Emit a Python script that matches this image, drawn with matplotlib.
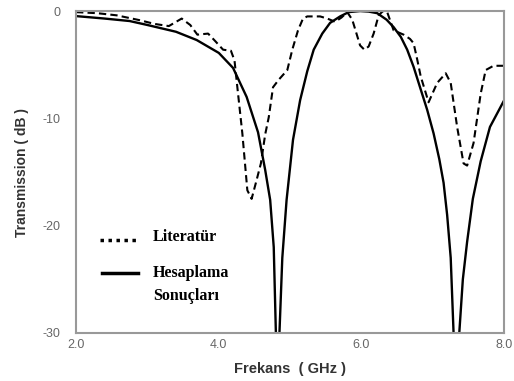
import matplotlib
matplotlib.use("Agg")
import matplotlib.pyplot as plt
from matplotlib.lines import Line2D

# Hesaplama Sonuçları (solid): frequency (GHz), transmission (dB)
calc_f = [2.0, 2.4, 2.75, 3.0, 3.4, 3.69, 4.0, 4.2, 4.39, 4.55, 4.65, 4.72,
          4.77, 4.8, 4.82, 4.85, 4.89, 4.95, 5.04, 5.14, 5.24, 5.33, 5.45,
          5.56, 5.7, 5.82, 5.98, 6.1, 6.22, 6.35, 6.45, 6.55, 6.64, 6.73,
          6.82, 6.92, 7.01, 7.09, 7.15, 7.2, 7.25, 7.29, 7.32, 7.37, 7.42,
          7.48, 7.56, 7.67, 7.8, 8.0]
calc_db = [-0.47, -0.7, -0.93, -1.3, -1.93, -2.7, -3.9, -5.3, -8.0, -11.3,
           -14.8, -17.6, -22.0, -30.0, -40.0, -30.0, -23.0, -17.6, -12.0,
           -8.3, -5.6, -3.6, -2.1, -1.1, -0.5, -0.1, 0.0, -0.05, -0.2, -0.8,
           -1.5, -2.4, -3.6, -5.2, -7.1, -9.2, -11.4, -13.8, -16.0, -19.0,
           -23.0, -30.0, -40.0, -30.0, -25.0, -21.5, -17.5, -14.0, -10.8,
           -8.3]

# Literatür (dashed)
lit_f = [2.0, 2.3, 2.57, 2.89, 3.1, 3.3, 3.48, 3.6, 3.7, 3.85, 3.95, 4.06,
         4.17, 4.22, 4.26, 4.33, 4.4, 4.46, 4.52, 4.59, 4.65, 4.7, 4.76,
         4.84, 4.96, 5.03, 5.11, 5.18, 5.24, 5.42, 5.52, 5.63, 5.72, 5.8,
         5.87, 5.98, 6.04, 6.1, 6.17, 6.24, 6.3, 6.36, 6.45, 6.59, 6.68,
         6.73, 6.78, 6.83, 6.94, 7.06, 7.18, 7.25, 7.34, 7.43, 7.48, 7.57,
         7.67, 7.74, 7.85, 8.0]
lit_db = [-0.1, -0.2, -0.4, -0.85, -1.2, -1.4, -0.7, -1.3, -2.2, -2.1, -2.8,
          -3.6, -3.7, -4.6, -7.1, -11.4, -16.7, -17.5, -16.0, -14.2, -11.5,
          -9.9, -7.1, -6.4, -5.5, -3.6, -1.8, -0.7, -0.5, -0.5, -0.7, -1.0,
          -0.6, -0.1, -0.8, -3.2, -3.6, -3.3, -2.1, -0.4, 0.0, -0.1, -1.8,
          -2.2, -2.6, -3.0, -4.5, -6.1, -8.5, -6.7, -5.8, -6.7, -10.8,
          -14.2, -14.4, -12.3, -7.7, -5.5, -5.1, -5.1]

xticks = [2.0, 4.0, 6.0, 8.0]
yticks = [0, -10, -20, -30]
legend_labels = ["Literatür", "Hesaplama", "Sonuçları"]

fig = plt.figure(figsize=(5.14, 3.81), dpi=100)
ax = fig.add_axes([0.148, 0.126, 0.833, 0.845])

ax.plot(lit_f, lit_db, color="black", lw=1.5, ls=(0, (3.5, 2)))
ax.plot(calc_f, calc_db, color="black", lw=1.7)

ax.set_xlim(2, 8)
ax.set_ylim(-30, 0)
ax.set_xticks(xticks)
ax.set_xticklabels([f"{t:.1f}" for t in xticks])
ax.set_yticks(yticks)
ax.set_yticklabels([str(t) for t in yticks])
ax.tick_params(length=0, labelsize=9, labelcolor="#666666",
               labelfontfamily="Liberation Sans")
ax.tick_params(axis="y", pad=11)
ax.tick_params(axis="x", pad=4)
for s in ax.spines.values():
    s.set_color("#999999")
    s.set_linewidth(1.5)

ax.set_xlabel("Frekans  ( GHz )", fontsize=10.5, fontweight="bold",
              family="Liberation Sans", color="#333333", labelpad=8)
ax.set_ylabel("Transmission ( dB )", fontsize=10, fontweight="bold",
              family="Liberation Sans", color="#333333", labelpad=10)

# hand-placed legend, as in the original figure
ax.add_line(Line2D([0.056, 0.143], [0.29, 0.29], transform=ax.transAxes,
                   color="black", lw=2.5, ls=(0, (1, 1.3))))
ax.add_line(Line2D([0.061, 0.145], [0.186, 0.186], transform=ax.transAxes,
                   color="black", lw=2.5))
font = dict(family="Liberation Serif", fontweight="bold", fontsize=11.5,
            transform=ax.transAxes, va="center", ha="left")
ax.text(0.18, 0.298, legend_labels[0], **font)
ax.text(0.18, 0.186, legend_labels[1], **font)
ax.text(0.18, 0.115, legend_labels[2], **font)

fig.savefig("out.png", dpi=100)
